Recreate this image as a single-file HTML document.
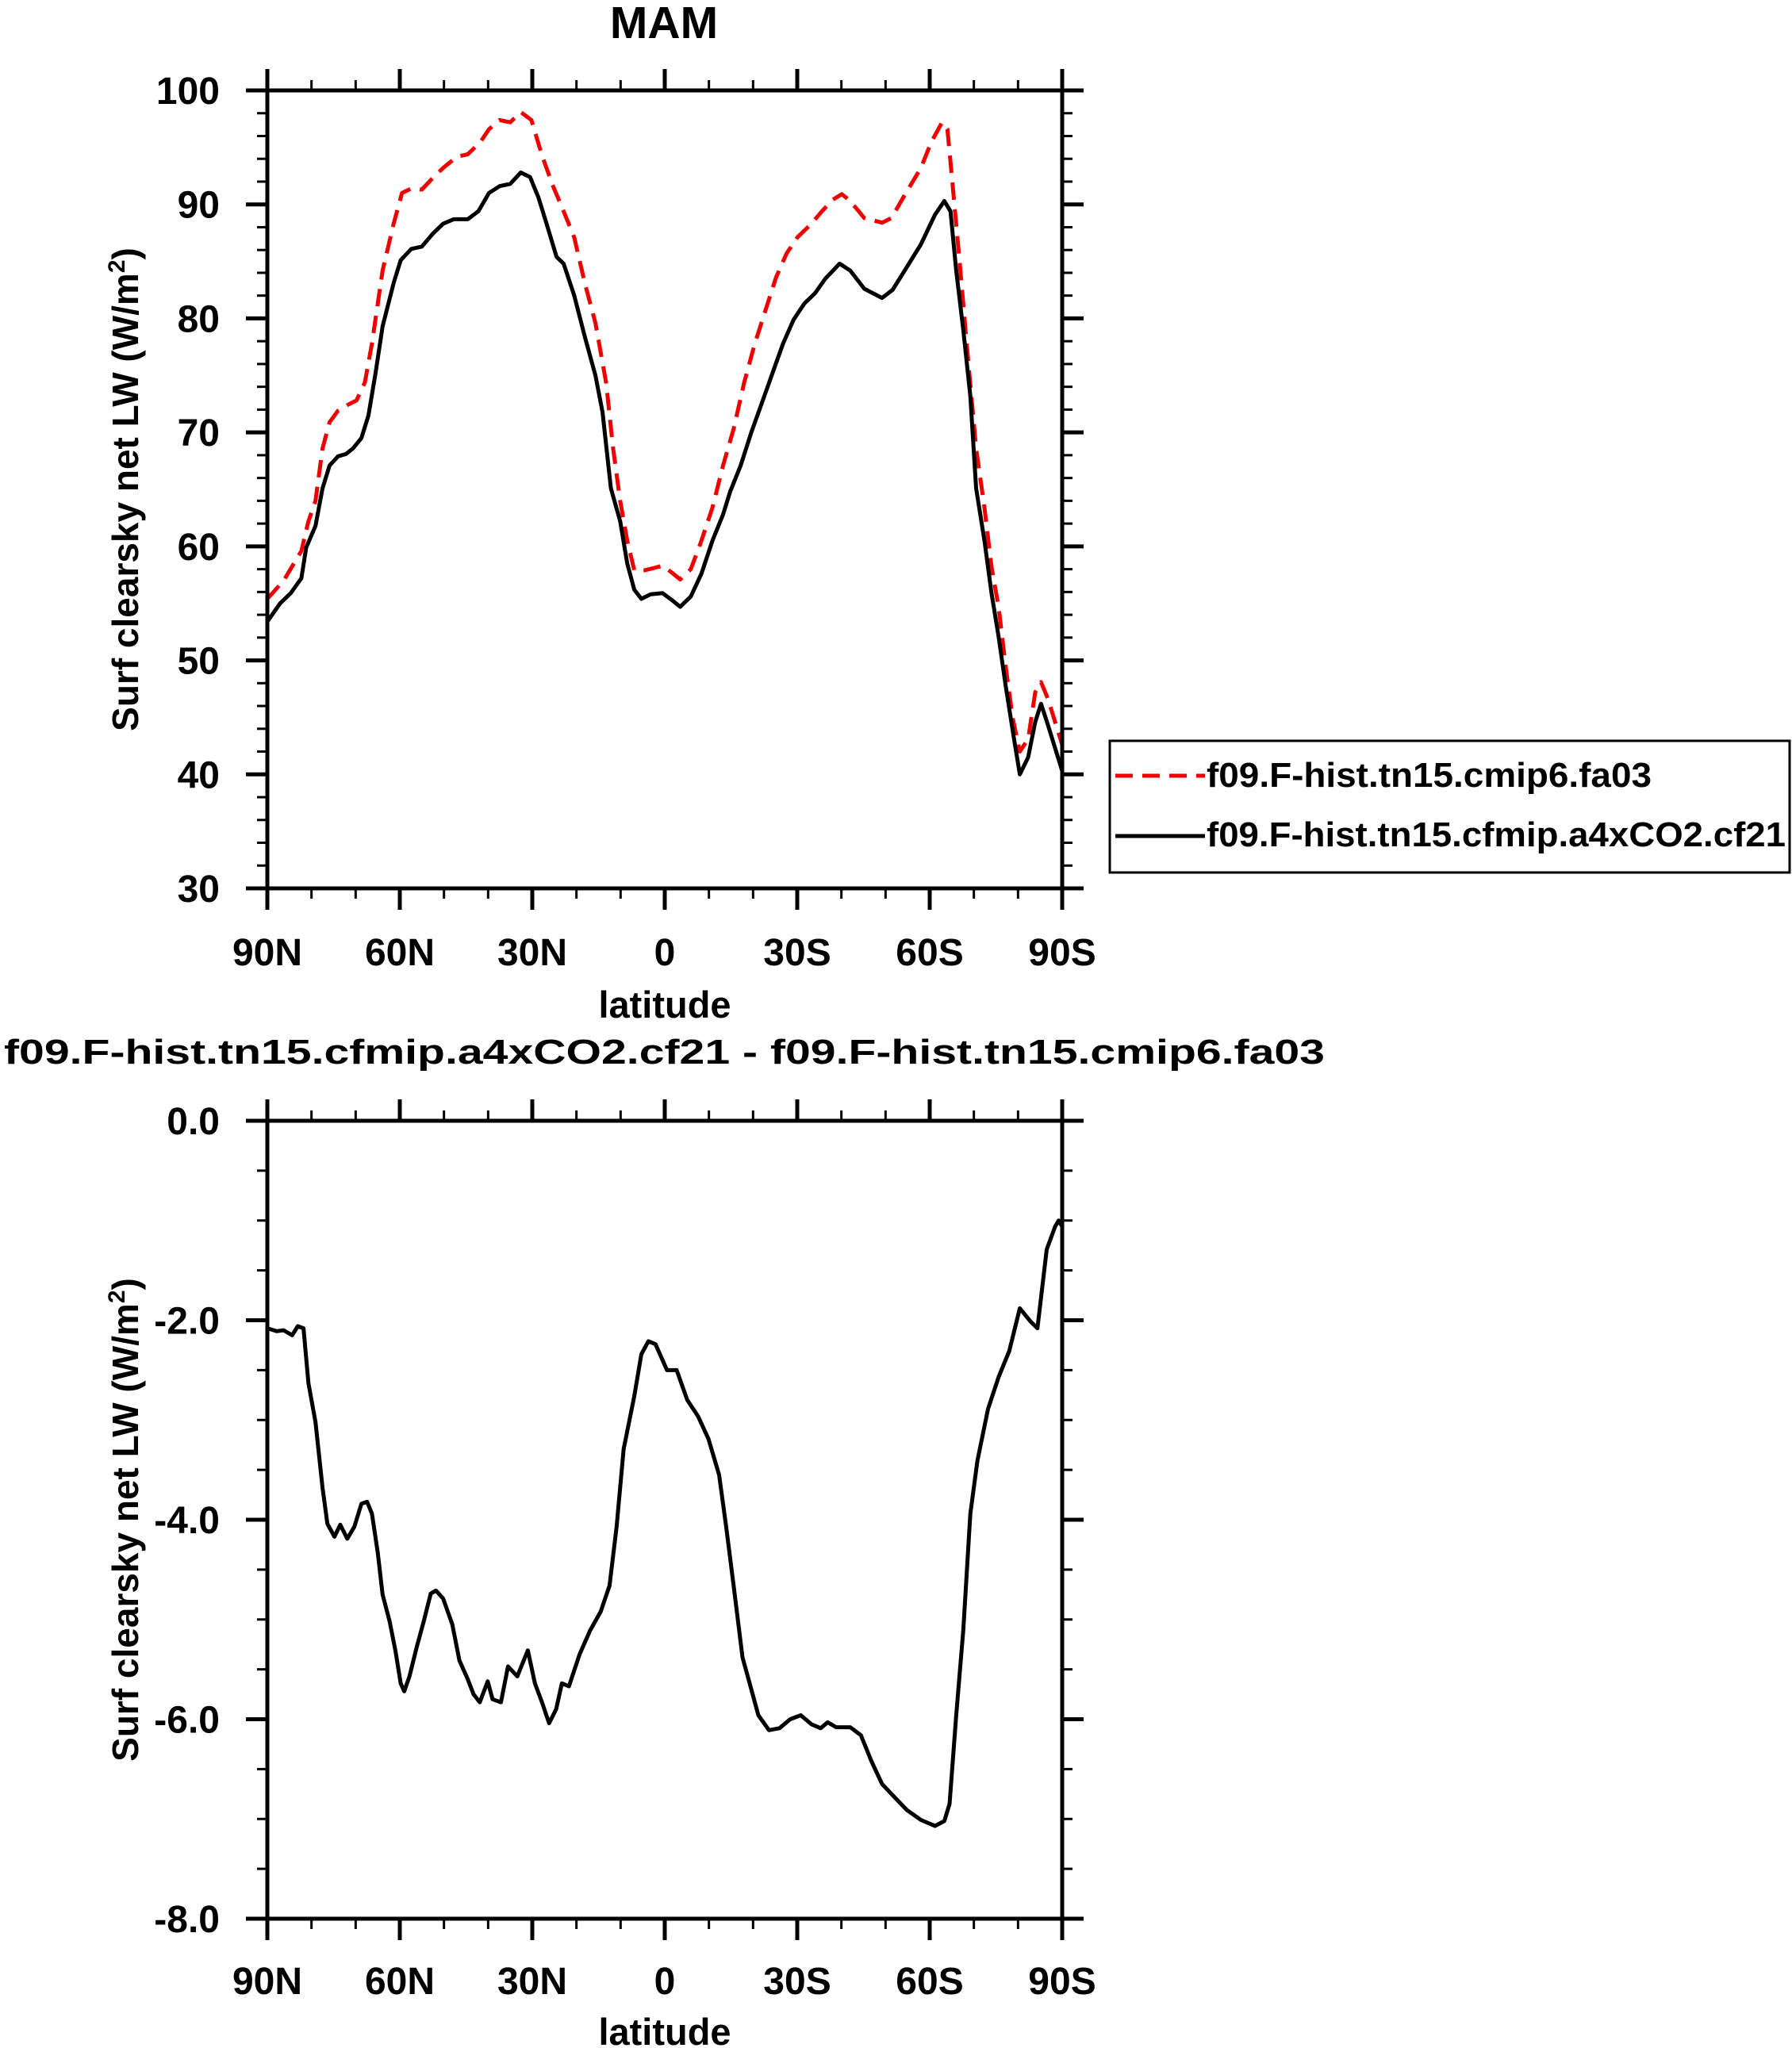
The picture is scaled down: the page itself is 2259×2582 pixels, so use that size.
<!DOCTYPE html>
<html><head><meta charset="utf-8"><style>
html,body{margin:0;padding:0;background:#fff;}
svg{display:block;font-family:"Liberation Sans",sans-serif;font-weight:bold;}
</style></head><body>
<svg id="chart" width="2259" height="2582" viewBox="0 0 2259 2582" xmlns="http://www.w3.org/2000/svg">
<text x="837" y="48" font-size="57" text-anchor="middle">MAM</text>
<text x="5" y="1341" font-size="44" textLength="1665" lengthAdjust="spacingAndGlyphs">f09.F-hist.tn15.cfmip.a4xCO2.cf21 - f09.F-hist.tn15.cmip6.fa03</text>
<g id="top"></g>
<g id="bot"></g>
<g>
<rect x="1399" y="934" width="857" height="166" fill="none" stroke="#000" stroke-width="3"/>
<line x1="1406" y1="978" x2="1519" y2="978" stroke="#e00" stroke-width="5" stroke-dasharray="22,12"/>
<text x="1521" y="992" font-size="44" textLength="561" lengthAdjust="spacingAndGlyphs">f09.F-hist.tn15.cmip6.fa03</text>
<line x1="1406" y1="1054" x2="1519" y2="1054" stroke="#000" stroke-width="5"/>
<text x="1521" y="1067" font-size="44" textLength="730" lengthAdjust="spacingAndGlyphs">f09.F-hist.tn15.cfmip.a4xCO2.cf21</text>
</g>
</svg>
<script>
const xTickVals=[90,60,30,0,-30,-60,-90];
const xTickLabels=["90N","60N","30N","0","30S","60S","90S"];
const topTickVals=[100,90,80,70,60,50,40,30];
const topTickLabels=["100","90","80","70","60","50","40","30"];
const botTickVals=[0,-2,-4,-6,-8];
const botTickLabels=["0.0","-2.0","-4.0","-6.0","-8.0"];
const latCtl=[90,86.3,82.3,80.7,79.1,77.5,75.9,74,71.9,69.8,67.9,66.3,63.9,61.4,59.5,57.4,55,52.6,50.2,47,44.6,41.7,39.8,37.4,35,32.6,30.2,27.8,25.4,22.9,20.5,18.1,15.7,13.3,11.7,10.1,8.5,6.9,4.5,0.5,-1.6,-3.5,-5.9,-8.3,-10.8,-13.2,-15.6,-18,-20.4,-22.8,-25.2,-27.6,-30,-33.2,-35.6,-38,-40.1,-42,-45.2,-49.2,-51.3,-54,-58,-60.4,-62.8,-64,-65.2,-66.8,-68.9,-70.5,-72.4,-74,-75.6,-77.2,-78.8,-80.4,-82.3,-83.9,-85.2,-86.8,-88.4,-90];
const valCtl=[55.4,57,59.6,62.2,64,68.6,70.9,71.9,72.4,72.8,74.4,77.8,84.2,88.3,91,91.4,91.3,92.3,93.2,94.2,94.4,95.5,96.6,97.4,97.2,98.1,97.4,94.3,91.7,89.4,87.1,83.1,79.6,74.4,68.6,64,60.5,57.9,57.9,58.3,57.7,57.1,58,60.5,63.4,67.1,70.3,74.4,77.8,80.7,83.6,85.7,87.1,88.3,89.4,90.4,90.9,90.3,88.8,88.4,88.8,90.6,93.2,95.5,97.2,96.6,91.7,84.8,75.5,68.6,63.4,58.2,54.7,49.5,44.9,42,43.1,47.2,48.1,46.6,44.6,42.6];
const latExp=[90,87.1,84.7,82.3,81.2,79.1,77.5,75.9,74,72.2,70.6,68.7,67.1,65.5,63.9,61.4,59.8,57.4,55,52.6,50.2,47.8,44.6,42.2,39.8,37.4,35,32.6,30.5,28.6,27,24.5,22.9,20.5,18.1,15.7,14.1,12.2,10.1,8.5,6.9,5.3,3.2,0.5,-1.9,-3.5,-5.9,-8.3,-10.8,-13.2,-14.8,-17.2,-19.6,-22,-24.4,-26.8,-29.2,-31.6,-34,-36.4,-39.6,-42,-45.2,-49.2,-51.6,-54.8,-58,-61.2,-63.3,-64.7,-66,-67.6,-69.2,-70.5,-72.4,-74,-75.6,-77.2,-79.1,-80.4,-82.3,-83.9,-85.2,-86.8,-88.4,-90];
const valExp=[53.4,55,55.9,57.2,59.9,61.8,65.1,67.1,67.9,68.1,68.6,69.5,71.5,75.2,79.3,83.1,85.1,86.1,86.3,87.4,88.3,88.7,88.7,89.4,91,91.6,91.8,92.8,92.4,90.6,88.6,85.4,84.8,82,78.4,75,71.8,65.1,62.2,58.5,56.2,55.4,55.8,55.9,55.2,54.7,55.6,57.6,60.5,62.8,64.8,67.1,70,72.6,75.2,77.8,79.9,81.3,82.2,83.5,84.8,84.2,82.6,81.8,82.5,84.5,86.5,89.1,90.3,89.4,84.2,79,73.2,65.1,60.5,55.9,52.1,47.8,43.1,40,41.5,44.6,46.2,44.3,42.3,40.3];
const latDiff=[90,87.9,86.3,84.4,83.1,81.8,80.7,79.1,77.5,76.4,74.8,73.5,71.9,70.3,68.7,67.4,66.3,65,63.9,62.3,61,59.8,59,57.8,56.2,54.6,53,51.8,50.2,48.1,46.5,44.6,43.3,41.9,40.1,39,37.1,35.5,33.4,31,29.4,27.8,26.2,24.6,23.3,21.7,19.3,16.9,14.5,12.5,10.9,9.3,6.9,5.3,3.7,2.1,-0.5,-2.7,-5.1,-7.5,-9.9,-12.3,-13.9,-15.6,-17.6,-19.6,-21.2,-23.6,-26,-28.4,-30.8,-33.2,-35.3,-36.9,-38.8,-42,-44.4,-46.8,-49.2,-52,-54.8,-58,-61.2,-63.3,-64.5,-66,-67.6,-69.2,-70.8,-73.2,-75.6,-78,-80.4,-82.8,-84.4,-86.5,-88.4,-89.2,-90];
const valDiff=[-2.08,-2.11,-2.1,-2.15,-2.06,-2.08,-2.63,-3.02,-3.68,-4.04,-4.17,-4.05,-4.19,-4.07,-3.84,-3.82,-3.94,-4.33,-4.75,-5.02,-5.31,-5.64,-5.72,-5.57,-5.28,-5.02,-4.74,-4.71,-4.79,-5.05,-5.41,-5.6,-5.75,-5.83,-5.62,-5.8,-5.83,-5.47,-5.57,-5.31,-5.64,-5.83,-6.04,-5.9,-5.64,-5.67,-5.35,-5.11,-4.92,-4.66,-4.07,-3.29,-2.76,-2.34,-2.21,-2.24,-2.5,-2.5,-2.8,-2.96,-3.19,-3.55,-4.07,-4.66,-5.38,-5.7,-5.96,-6.11,-6.09,-6,-5.96,-6.05,-6.09,-6.03,-6.08,-6.08,-6.16,-6.42,-6.65,-6.78,-6.91,-7.01,-7.07,-7.02,-6.85,-5.96,-5.11,-3.94,-3.41,-2.89,-2.57,-2.31,-1.88,-2.01,-2.08,-1.29,-1.06,-1,-1.06];

const NS="http://www.w3.org/2000/svg";
const X0=337,X1=1339;
function xs(lat){return X0+(90-lat)/180*(X1-X0);}
function mk(parent,tag,attrs){const e=document.createElementNS(NS,tag);for(const k in attrs)e.setAttribute(k,attrs[k]);parent.appendChild(e);return e;}

function panel(g,top,bot,ymin,ymax,tickVals,tickLabels,minorStep,series,latLabelY,titleY){
  const ys=v=>bot-(v-ymin)/(ymax-ymin)*(bot-top);
  for(let lat=90;lat>=-90;lat-=10){
    if(lat%30===0)continue;
    const x=xs(lat);
    let t=mk(g,'line',{x1:x,y1:top,x2:x,y2:top-13,stroke:'#000','stroke-width':3});
    
    
    t=mk(g,'line',{x1:x,y1:bot,x2:x,y2:bot+13,stroke:'#000','stroke-width':3});
    
    
  }
  for(let v=ymin;v<=ymax+1e-9;v+=minorStep){
    const y=ys(v);
    let t=mk(g,'line',{x1:X0,y1:y,x2:X0-13,y2:y,stroke:'#000','stroke-width':3});
    
    
    t=mk(g,'line',{x1:X1,y1:y,x2:X1+13,y2:y,stroke:'#000','stroke-width':3});
    
    
  }
  xTickVals.forEach((lat,i)=>{
    const x=xs(lat);
    let t=mk(g,'line',{x1:x,y1:top,x2:x,y2:top-27,stroke:'#000','stroke-width':5});
    
    
    t=mk(g,'line',{x1:x,y1:bot,x2:x,y2:bot+27,stroke:'#000','stroke-width':5});
    
    
    const l=mk(g,'text',{x:x,y:latLabelY,'font-size':48,'text-anchor':'middle'});
    l.textContent=xTickLabels[i];
    
    
  });
  tickVals.forEach((v,i)=>{
    const y=ys(v);
    let t=mk(g,'line',{x1:X0,y1:y,x2:X0-27,y2:y,stroke:'#000','stroke-width':5});
    
    
    t=mk(g,'line',{x1:X1,y1:y,x2:X1+27,y2:y,stroke:'#000','stroke-width':5});
    
    
    const l=mk(g,'text',{x:277,y:y+17,'font-size':48,'text-anchor':'end'});
    l.textContent=tickLabels[i];
    
    
  });
  series.forEach(s=>{
    const d=s.lat.map((la,i)=>(i?'L':'M')+xs(la).toFixed(1)+' '+ys(s.val[i]).toFixed(1)).join(' ');
    const p=mk(g,'path',{d:d,fill:'none',stroke:s.color,'stroke-width':5,'stroke-linejoin':'round'});
    if(s.dash)p.setAttribute('stroke-dasharray',s.dash);
    
    
  });
  const fr=mk(g,'rect',{x:X0,y:top,width:X1-X0,height:bot-top,fill:'none',stroke:'#000','stroke-width':5});
  
  
  const xt=mk(g,'text',{x:838,y:titleY,'font-size':47,'text-anchor':'middle'});
  xt.textContent='latitude';
  
  
  const cy=(top+bot)/2;
  const yt=mk(g,'text',{x:0,y:0,'font-size':46,'text-anchor':'middle',transform:'translate(174 '+cy+') rotate(-90)'});
  yt.innerHTML='Surf clearsky net LW (W/m<tspan dy="-17" font-size="30">2</tspan><tspan dy="17">)</tspan>';
  
  
}
panel(document.getElementById('top'),114,1120,30,100,topTickVals,topTickLabels,2,
 [{lat:latCtl,val:valCtl,color:'#e00',dash:'22,12',name:'series-fa03'},
  {lat:latExp,val:valExp,color:'#000',name:'series-cf21'}],1217,1283);
panel(document.getElementById('bot'),1413,2419,-8,0,botTickVals,botTickLabels,0.5,
 [{lat:latDiff,val:valDiff,color:'#000',name:'series-difference'}],2514,2578);
</script>
</body></html>
